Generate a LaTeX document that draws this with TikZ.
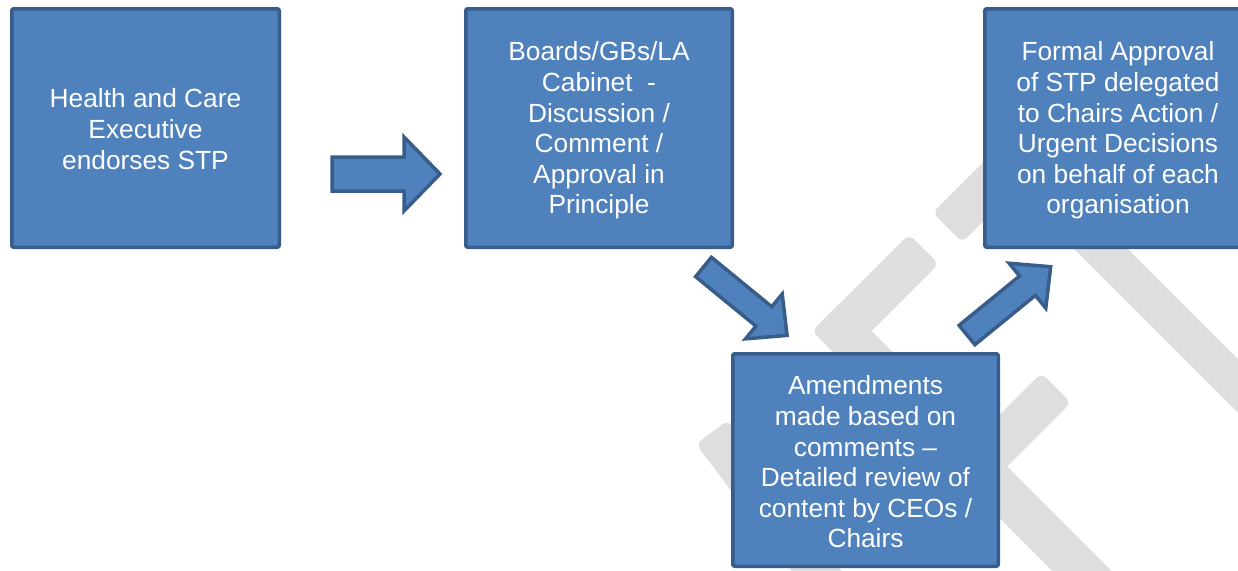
\documentclass[tikz,border=0pt]{standalone}
\usepackage{fontspec}
\setmainfont{Liberation Sans}
\usetikzlibrary{calc}
\definecolor{boxfill}{HTML}{4F81BD}
\definecolor{boxline}{HTML}{385D8A}
\definecolor{wm}{RGB}{222,222,222}
\tikzset{
  stepbox/.style={draw=boxline, fill=boxfill, line width=3.5pt, rounded corners=2pt,
    inner sep=0pt, outer sep=0pt},
  boxtext/.style={inner sep=0pt, text=white, align=center,
    font=\fontsize{26.3}{30.6}\selectfont},
  arrowbox/.style={draw=boxline, fill=boxfill, line width=3.5pt, line join=miter},
  wmfill/.style={fill=wm, rounded corners=7pt}
}
% block arrow: #1 tail coordinate, #2 angle, #3 shaft half width, #4 head half width, #5 head length, #6 total length
\newcommand\blockarrow[6]{%
  \begin{scope}[shift={(#1)},rotate=#2]
    \filldraw[arrowbox] (0,-#3) -- ({#6-#5},-#3) -- ({#6-#5},-#4) -- (#6,0)
      -- ({#6-#5},#4) -- ({#6-#5},#3) -- (0,#3) -- cycle;
  \end{scope}}
% watermark band: #1 x, #2 y, #3 angle, #4 length, #5 half width
\newcommand\wmband[5]{%
  \begin{scope}[shift={(#1,#2)},rotate=#3]
    \fill[wmfill] (0,-#5) rectangle (#4,#5);
  \end{scope}}
\begin{document}
\begin{tikzpicture}[x=1pt,y=-1pt]
\useasboundingbox (0,0) rectangle (1238,570);
% watermark
\wmband{827}{316}{-45}{460}{21}
\wmband{827}{346}{45}{137}{21}
\wmband{977}{467}{45}{112}{21}
\wmband{1028}{147}{-135}{114}{21}
\wmband{1000}{148}{-45}{450}{19}
\wmband{712}{432}{-53}{200}{20}
% boxes
\node[stepbox, minimum width=267.5pt, minimum height=238.5pt] (hce) at (145.5,128) {};
\node[stepbox, minimum width=266.5pt, minimum height=238.5pt] (boards) at (599,128) {};
\node[stepbox, minimum width=266.5pt, minimum height=238.5pt] (formal) at (1118,128) {};
\node[stepbox, minimum width=265.5pt, minimum height=212.5pt] (amend) at (865.5,460) {};
% texts
\node[boxtext] (hcet) at ($(hce)+(0,1)$)
  {Health and Care\\Executive\\endorses STP};
\node[boxtext] (boardst) at ($(boards)+(0,2.5)$)
  {Boards/GBs/LA\\Cabinet\ \ -\\Discussion /\\Comment /\\Approval in\\Principle};
\node[boxtext] (formalt) at ($(formal)+(0,2.5)$)
  {Formal Approval\\of STP delegated\\to Chairs Action /\\Urgent Decisions\\on behalf of each\\organisation};
\node[boxtext] (amendt) at ($(amend)+(0,2)$)
  {Amendments\\made based on\\comments –\\Detailed review of\\content by CEOs /\\Chairs};
% block arrows
\coordinate (a1) at (332,174);
\coordinate (a2) at (703.5,267);
\coordinate (a3) at (967,335);
\blockarrow{a1}{0}{17}{37}{36}{108}
\blockarrow{a2}{-39.3}{12.5}{29}{30}{108}
\blockarrow{a3}{39.2}{12.5}{29}{30}{108}
\end{tikzpicture}
\end{document}
